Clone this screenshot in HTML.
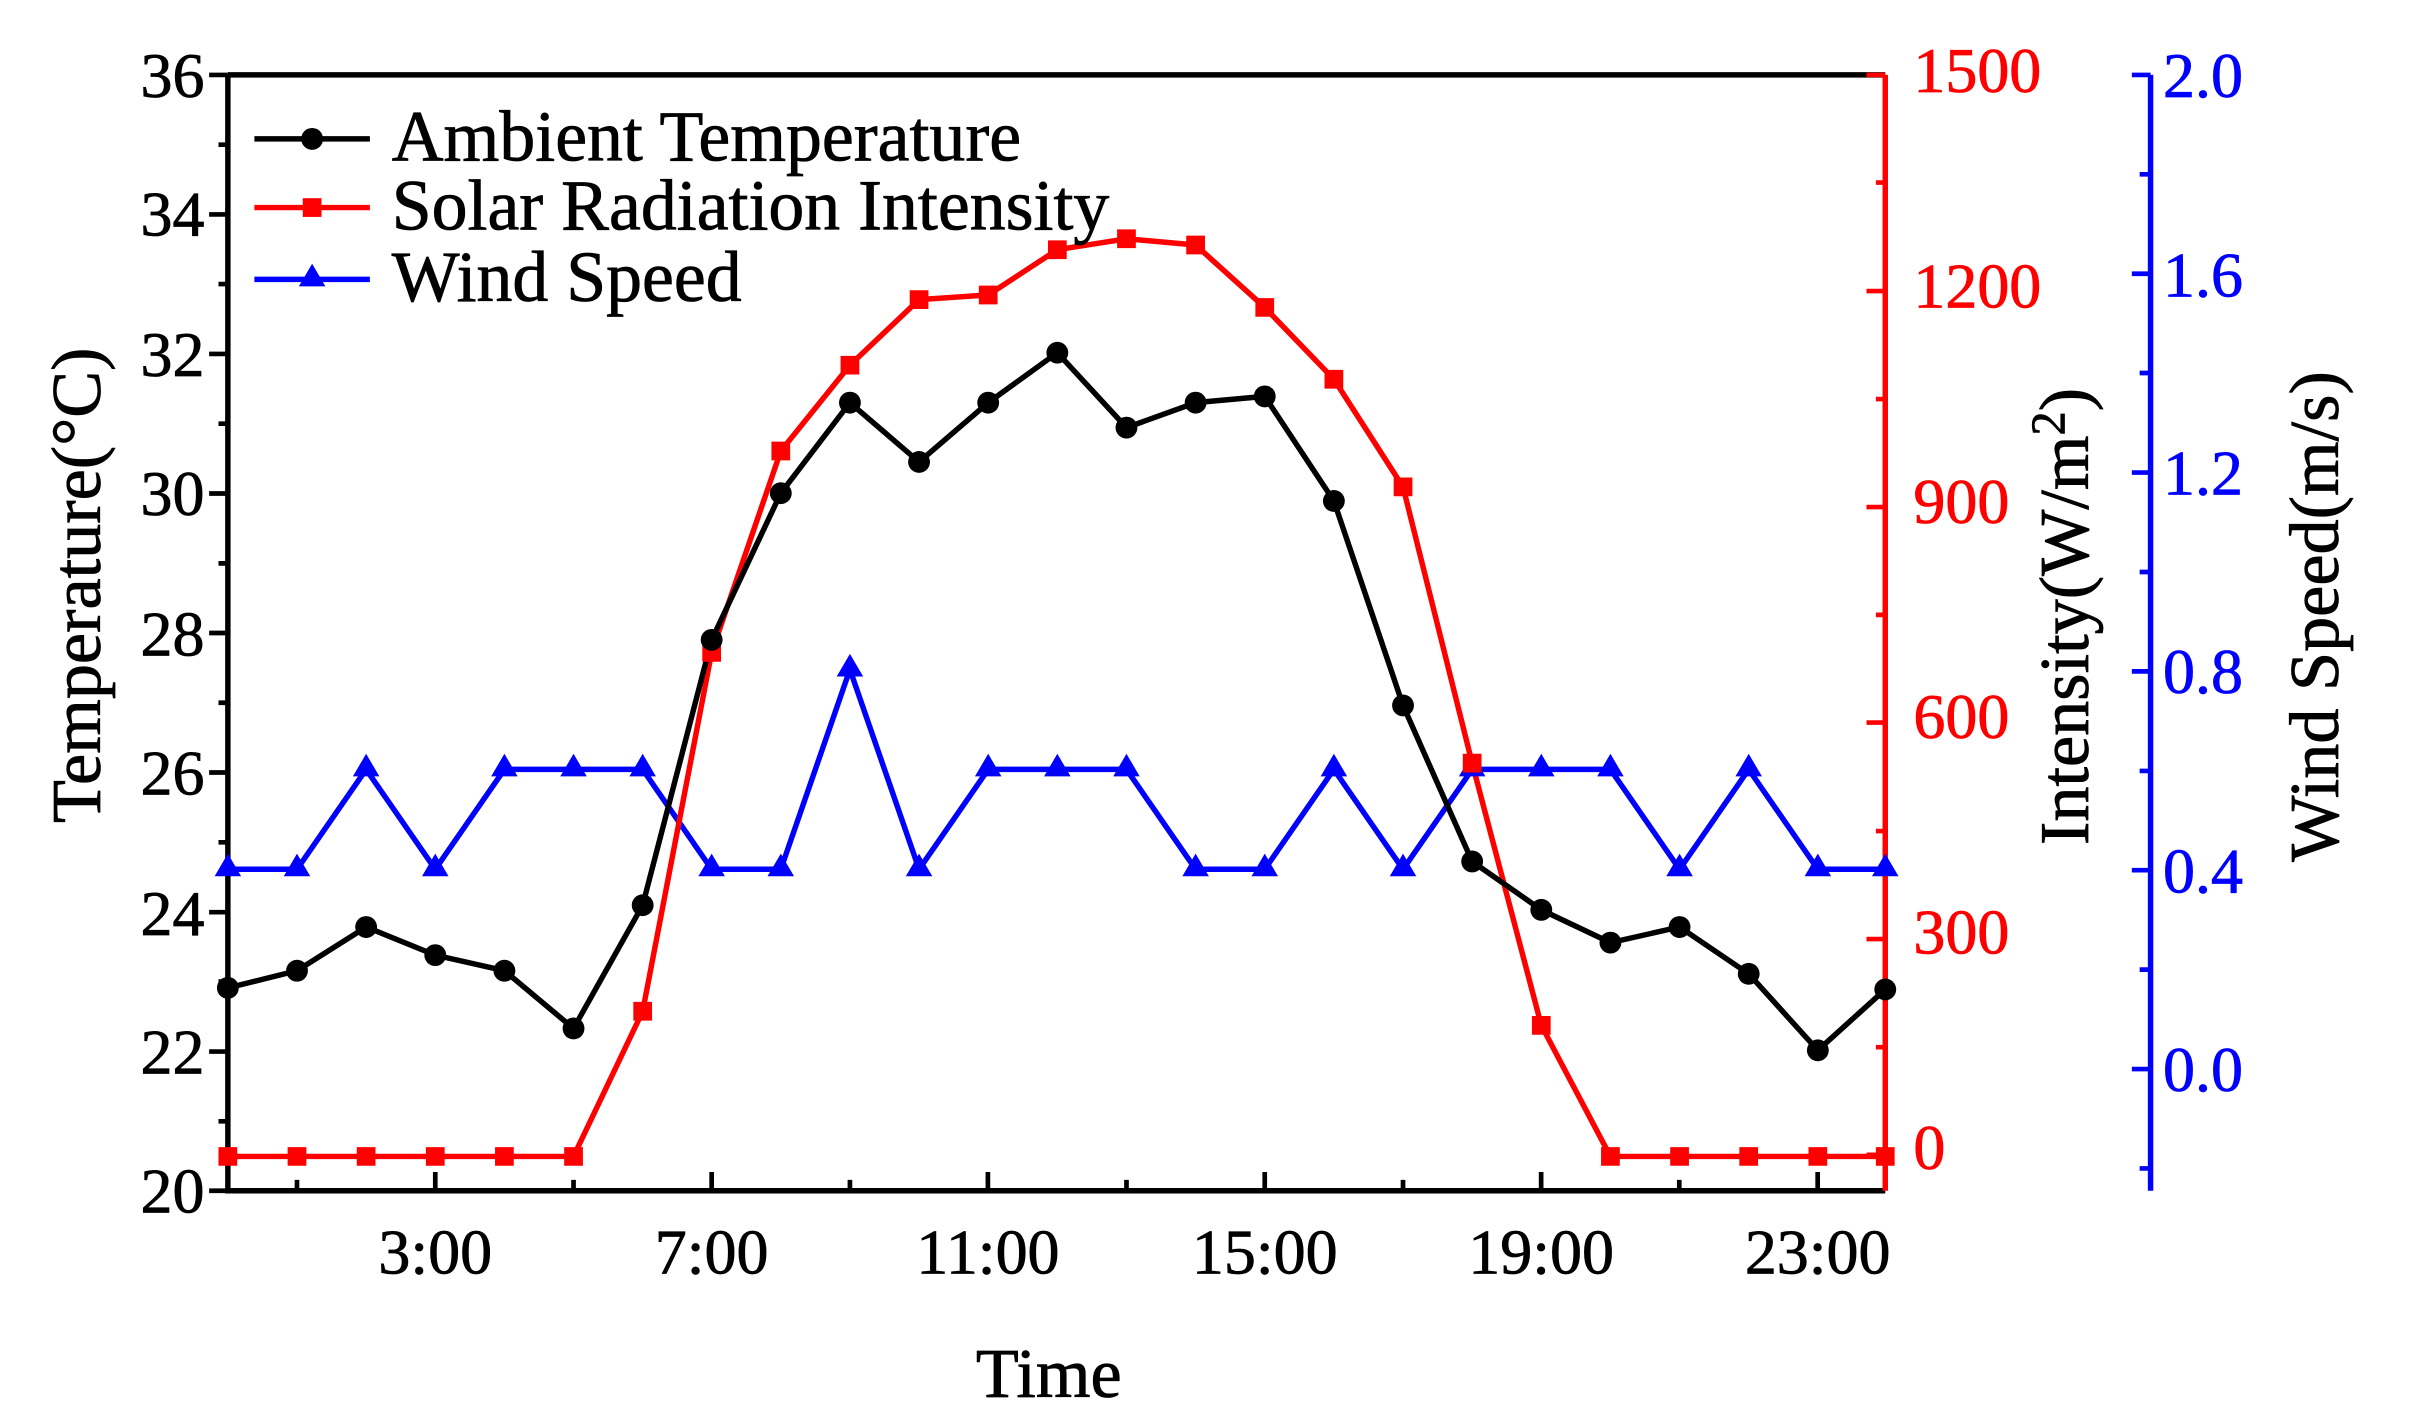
<!DOCTYPE html>
<html><head><meta charset="utf-8"><style>html,body{margin:0;padding:0;background:#fff}svg{display:block}</style></head>
<body>
<svg width="2419" height="1418" viewBox="0 0 1550 908.6" xmlns="http://www.w3.org/2000/svg" font-family="Liberation Serif, serif">
<rect width="1550" height="908.6" fill="#fff"/>
<g id="axes" stroke-width="3.5" fill="none">
<path d="M146 48 H1208 M146 48 V763 H1208" stroke="#000"/>
<path d="M1208 48 V763" stroke="#f00"/>
<path d="M1378 48 V763" stroke="#00f"/>
</g>
<g stroke="#000" stroke-width="3">
<path d="M134 48H146M140 92.7H146M134 137.4H146M140 182H146M134 226.8H146M140 271.5H146M134 316.2H146M140 361H146M134 405.6H146M140 450.3H146M134 495H146M140 539.7H146M134 584.5H146M140 629H146M134 673.8H146M140 718.5H146M134 763H146"/>
<path d="M190.3 763v-7M278.9 763v-12M367.5 763v-7M456 763v-12M544.6 763v-7M633 763v-12M721.8 763v-7M810.4 763v-12M899 763v-7M987.5 763v-12M1076 763v-7M1164.7 763v-12"/>
</g>
<g stroke="#f00" stroke-width="3">
<path d="M1196 48H1208M1202 117H1208M1196 186.5H1208M1202 255.7H1208M1196 324.9H1208M1202 394H1208M1196 463H1208M1202 532.5H1208M1196 601.7H1208M1202 671H1208M1196 740H1208"/>
</g>
<g stroke="#00f" stroke-width="3">
<path d="M1366 48H1378M1371 111.7H1378M1366 175.4H1378M1371 239H1378M1366 302.8H1378M1371 366.5H1378M1366 430.2H1378M1371 494H1378M1366 557.6H1378M1371 621.3H1378M1366 685H1378M1371 748.7H1378"/>
</g>
<g font-size="41" text-anchor="end" fill="#000" stroke="#000" stroke-width="0.5">
<text x="131" y="62">36</text><text x="131" y="151">34</text><text x="131" y="241">32</text><text x="131" y="330">30</text><text x="131" y="420">28</text><text x="131" y="509">26</text><text x="131" y="599">24</text><text x="131" y="688">22</text><text x="131" y="777">20</text>
</g>
<g font-size="41" text-anchor="middle" fill="#000" stroke="#000" stroke-width="0.5">
<text x="278.9" y="816">3:00</text><text x="456" y="816">7:00</text><text x="633" y="816">11:00</text><text x="810.4" y="816">15:00</text><text x="987.5" y="816">19:00</text><text x="1164.7" y="816">23:00</text>
<text x="672" y="895" font-size="45">Time</text>
</g>
<g font-size="41" fill="#f00" stroke="#f00" stroke-width="0.5">
<text x="1226" y="59">1500</text><text x="1226" y="197">1200</text><text x="1226" y="335">900</text><text x="1226" y="473">600</text><text x="1226" y="611">300</text><text x="1226" y="749">0</text>
</g>
<g font-size="41" fill="#00f" stroke="#00f" stroke-width="0.5">
<text x="1386" y="62">2.0</text><text x="1386" y="190">1.6</text><text x="1386" y="317">1.2</text><text x="1386" y="444">0.8</text><text x="1386" y="572">0.4</text><text x="1386" y="699">0.0</text>
</g>
<g stroke="#000" stroke-width="0.5">
<text transform="translate(64 375) rotate(-90)" font-size="45" text-anchor="middle">Temperature(°C)</text>
<text transform="translate(1338 395) rotate(-90)" font-size="45" text-anchor="middle">Intensity(W/m<tspan font-size="31" dy="-15">2</tspan><tspan dy="15">)</tspan></text>
<text transform="translate(1498 395) rotate(-90)" font-size="45" text-anchor="middle">Wind Speed(m/s)</text>
</g>

<g fill="none" stroke-width="3.5" stroke-linejoin="round">
<polyline stroke="#00f" points="146,557 190.3,557 234.6,493 278.9,557 323.2,493 367.5,493 411.8,493 456,557 500.3,557 544.6,429 588.9,557 633.2,493 677.5,493 721.8,493 766.1,557 810.4,557 854.7,493 899,557 943.3,493 987.6,493 1031.9,493 1076.2,557 1120.5,493 1164.8,557 1208,557"/>
<polyline stroke="#f00" points="146,741 190.3,741 234.6,741 278.9,741 323.2,741 367.5,741 411.8,648 456,418 500.3,289 544.6,234 588.9,192 633.2,189 677.5,160 721.8,153 766.1,157 810.4,197 854.7,243 899,312 943.3,489 987.6,657 1031.9,741 1076.2,741 1120.5,741 1164.8,741 1208,741"/>
<polyline stroke="#000" points="146,633 190.3,622 234.6,594 278.9,612 323.2,622 367.5,659 411.8,580 456,410 500.3,316 544.6,258 588.9,296 633.2,258 677.5,226 721.8,274 766.1,258 810.4,254 854.7,321 899,452 943.3,552 987.6,583 1031.9,604 1076.2,594 1120.5,624 1164.8,673 1208,634"/>
</g>
<g fill="#00f">
<path d="M146,547l-8.5,14.5h17z M190.3,547l-8.5,14.5h17z M234.6,483l-8.5,14.5h17z M278.9,547l-8.5,14.5h17z M323.2,483l-8.5,14.5h17z M367.5,483l-8.5,14.5h17z M411.8,483l-8.5,14.5h17z M456,547l-8.5,14.5h17z M500.3,547l-8.5,14.5h17z M544.6,419l-8.5,14.5h17z M588.9,547l-8.5,14.5h17z M633.2,483l-8.5,14.5h17z M677.5,483l-8.5,14.5h17z M721.8,483l-8.5,14.5h17z M766.1,547l-8.5,14.5h17z M810.4,547l-8.5,14.5h17z M854.7,483l-8.5,14.5h17z M899,547l-8.5,14.5h17z M943.3,483l-8.5,14.5h17z M987.6,483l-8.5,14.5h17z M1031.9,483l-8.5,14.5h17z M1076.2,547l-8.5,14.5h17z M1120.5,483l-8.5,14.5h17z M1164.8,547l-8.5,14.5h17z M1208,547l-8.5,14.5h17z"/>
</g>
<g fill="#f00">
<path d="M140,735h12v12h-12z M184.3,735h12v12h-12z M228.6,735h12v12h-12z M272.9,735h12v12h-12z M317.2,735h12v12h-12z M361.5,735h12v12h-12z M405.8,642h12v12h-12z M450,412h12v12h-12z M494.3,283h12v12h-12z M538.6,228h12v12h-12z M582.9,186h12v12h-12z M627.2,183h12v12h-12z M671.5,154h12v12h-12z M715.8,147h12v12h-12z M760.1,151h12v12h-12z M804.4,191h12v12h-12z M848.7,237h12v12h-12z M893,306h12v12h-12z M937.3,483h12v12h-12z M981.6,651h12v12h-12z M1025.9,735h12v12h-12z M1070.2,735h12v12h-12z M1114.5,735h12v12h-12z M1158.8,735h12v12h-12z M1202,735h12v12h-12z"/>
</g>
<g fill="#000">
<circle cx="146" cy="633" r="7"/><circle cx="190.3" cy="622" r="7"/><circle cx="234.6" cy="594" r="7"/><circle cx="278.9" cy="612" r="7"/><circle cx="323.2" cy="622" r="7"/><circle cx="367.5" cy="659" r="7"/><circle cx="411.8" cy="580" r="7"/><circle cx="456" cy="410" r="7"/><circle cx="500.3" cy="316" r="7"/><circle cx="544.6" cy="258" r="7"/><circle cx="588.9" cy="296" r="7"/><circle cx="633.2" cy="258" r="7"/><circle cx="677.5" cy="226" r="7"/><circle cx="721.8" cy="274" r="7"/><circle cx="766.1" cy="258" r="7"/><circle cx="810.4" cy="254" r="7"/><circle cx="854.7" cy="321" r="7"/><circle cx="899" cy="452" r="7"/><circle cx="943.3" cy="552" r="7"/><circle cx="987.6" cy="583" r="7"/><circle cx="1031.9" cy="604" r="7"/><circle cx="1076.2" cy="594" r="7"/><circle cx="1120.5" cy="624" r="7"/><circle cx="1164.8" cy="673" r="7"/><circle cx="1208" cy="634" r="7"/>
</g>
<g stroke-width="3.5">
<line x1="163" y1="89" x2="237" y2="89" stroke="#000"/><circle cx="200" cy="89" r="7" fill="#000"/>
<line x1="163" y1="133" x2="237" y2="133" stroke="#f00"/><rect x="194" y="127" width="12" height="12" fill="#f00"/>
<line x1="163" y1="179" x2="237" y2="179" stroke="#00f"/><path d="M200,169l-8.5,14.5h17z" fill="#00f"/>
</g>
<g font-size="46" fill="#000" stroke="#000" stroke-width="0.5">
<text x="251" y="103">Ambient Temperature</text>
<text x="251" y="147">Solar Radiation Intensity</text>
<text x="251" y="193">Wind Speed</text>
</g>
</svg>
</body></html>
